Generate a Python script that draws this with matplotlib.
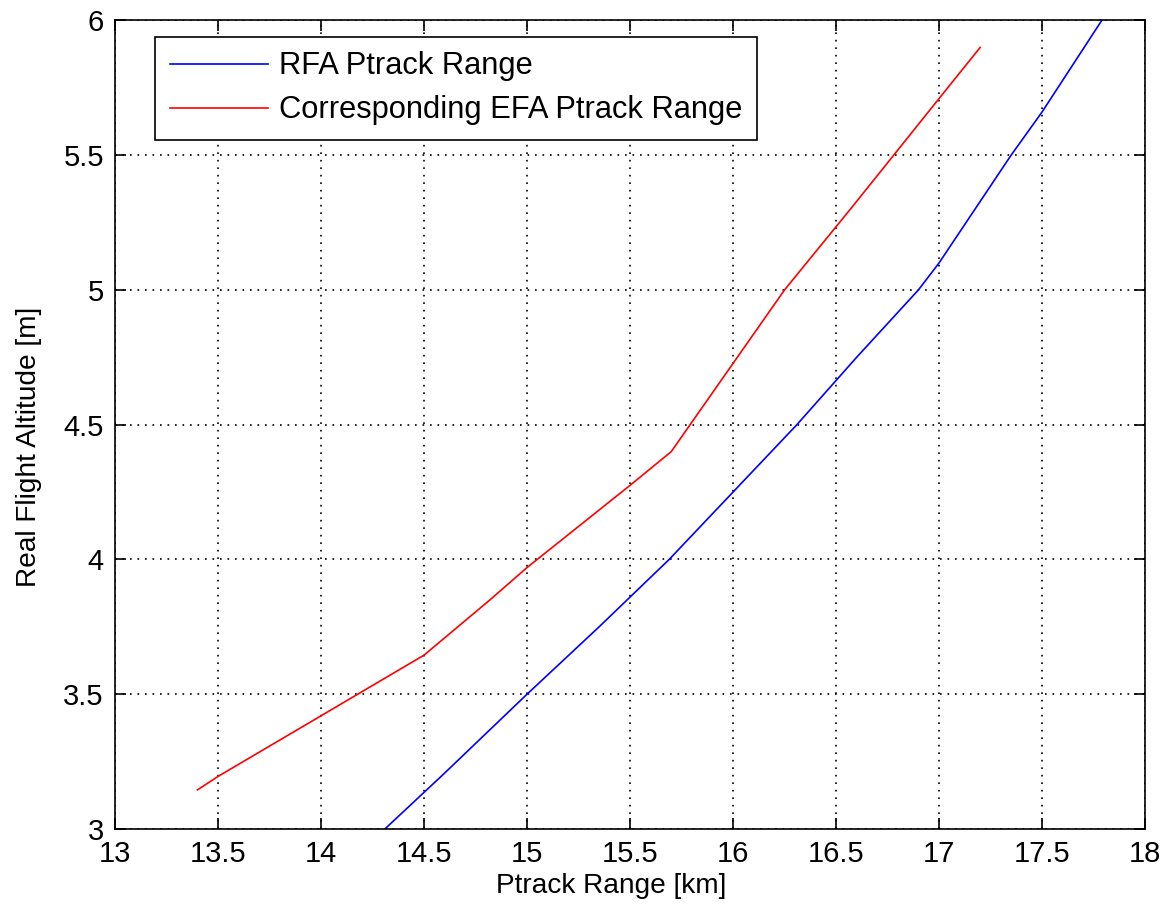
import matplotlib.pyplot as plt
import numpy as np

# data
rfa_range = [14.31, 14.59, 15.0, 15.35, 15.69, 16.0, 16.31, 16.6, 16.9, 17.0, 17.35, 17.5, 17.79]
rfa_alt = [3.0, 3.2, 3.5, 3.75, 4.0, 4.25, 4.5, 4.75, 5.0, 5.1, 5.5, 5.66, 6.0]

efa_range = [13.4, 13.5, 14.0, 14.5, 14.82, 15.0, 15.5, 15.7, 16.25, 16.57, 16.78, 17.0, 17.2]
efa_alt = [3.145, 3.195, 3.42, 3.645, 3.85, 3.97, 4.275, 4.4, 5.0, 5.3, 5.5, 5.71, 5.9]

xticks = np.arange(13, 18.01, 0.5)
yticks = np.arange(3, 6.01, 0.5)
xticklabels = ['13', '13.5', '14', '14.5', '15', '15.5', '16', '16.5', '17', '17.5', '18']
yticklabels = ['3', '3.5', '4', '4.5', '5', '5.5', '6']

plt.rcParams['font.family'] = ['Liberation Sans', 'DejaVu Sans']

fig = plt.figure(figsize=(11.65, 9.14), dpi=100)
ax = fig.add_axes([0.0987, 0.093, 0.8841, 0.8846])

ax.plot(rfa_range, rfa_alt, color='b', lw=1.2, label='RFA Ptrack Range')
ax.plot(efa_range, efa_alt, color='r', lw=1.2, label='Corresponding EFA Ptrack Range')

ax.set_xlim(13, 18)
ax.set_ylim(3, 6)
ax.set_xticks(xticks)
ax.set_yticks(yticks)
ax.set_xticklabels(xticklabels, fontsize=21)
ax.set_yticklabels(yticklabels, fontsize=21)
ax.tick_params(direction='in', top=True, right=True, length=8, width=1.2, pad=8)

ax.grid(True, color='k', linestyle=(0, (1, 3.5)), linewidth=1.2)

for s in ax.spines.values():
    s.set_linewidth(1.2)

ax.set_xlabel('Ptrack Range [km]', fontsize=20.2)
ax.set_ylabel('Real Flight Altitude [m]', fontsize=20.2)
ax.xaxis.set_label_coords(0.4816, -0.054)
ax.yaxis.set_label_coords(-0.071, 0.4725)

leg = ax.legend(loc='upper left', bbox_to_anchor=(0.0388, 0.98), fontsize=22.2,
                fancybox=False, edgecolor='k', framealpha=1, handlelength=3.2,
                handletextpad=0.33, borderpad=0.48, labelspacing=0.45, borderaxespad=0)
leg.get_frame().set_linewidth(1.2)

plt.savefig('out.png', dpi=100)
